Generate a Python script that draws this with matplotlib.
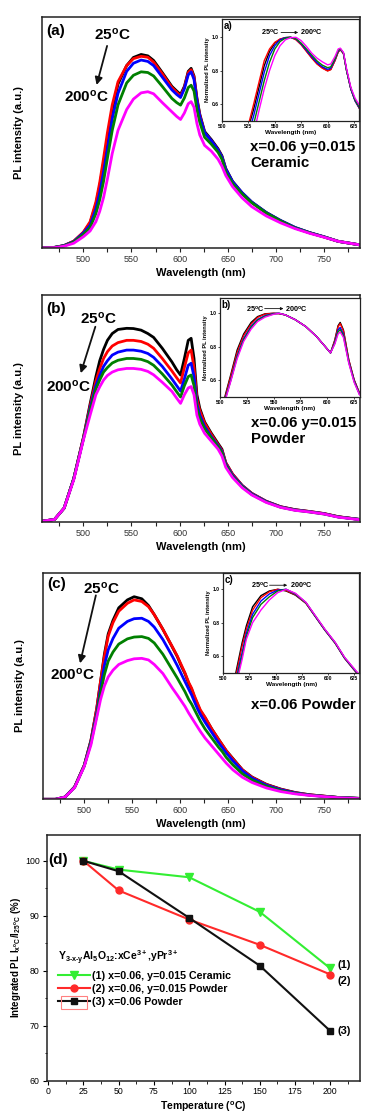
import matplotlib
matplotlib.use('Agg')
import matplotlib.pyplot as plt
from matplotlib.patches import Rectangle
from matplotlib.ticker import FormatStrFormatter

plt.rcParams['font.family'] = ['Liberation Sans', 'DejaVu Sans']
plt.rcParams['font.weight'] = 'bold'
plt.rcParams['mathtext.fontset'] = 'custom'
plt.rcParams['mathtext.rm'] = 'Liberation Sans:bold'
plt.rcParams['mathtext.it'] = 'Liberation Sans:bold:italic'
plt.rcParams['mathtext.bf'] = 'Liberation Sans:bold'
plt.rcParams['mathtext.default'] = 'regular'

# ---------------- data ----------------
temps_labels = ['25$^{\\rm o}$C', '200$^{\\rm o}$C']
series_colors = ['#000000', '#ff0000', '#0000ff', '#008000', '#ff00ff']

wavelength = [457, 470, 480, 490, 500, 507, 513, 517, 521, 525, 530, 536, 545, 552, 560, 567, 573,
              582, 592, 597, 601, 605, 609, 612, 615, 618, 621, 626, 633, 640, 644, 648, 655, 665,
              675, 690, 705, 720, 735, 750, 765, 787]

a_black = [0.003, 0.004, 0.012, 0.03, 0.068, 0.11, 0.19, 0.27, 0.37, 0.47, 0.60, 0.71, 0.79, 0.825, 0.838, 0.832, 0.812, 0.76, 0.70, 0.68, 0.665, 0.70, 0.765, 0.778, 0.745, 0.65, 0.58, 0.505, 0.47, 0.43, 0.40, 0.345, 0.29, 0.24, 0.20, 0.155, 0.12, 0.09, 0.068, 0.05, 0.03, 0.015]
a_red = [0.003, 0.004, 0.012, 0.031, 0.07, 0.115, 0.20, 0.285, 0.39, 0.50, 0.62, 0.72, 0.79, 0.82, 0.83, 0.826, 0.805, 0.755, 0.695, 0.675, 0.658, 0.695, 0.76, 0.772, 0.74, 0.645, 0.575, 0.50, 0.465, 0.425, 0.395, 0.34, 0.285, 0.237, 0.198, 0.153, 0.118, 0.088, 0.067, 0.049, 0.03, 0.015]
a_blue = [0.003, 0.004, 0.012, 0.029, 0.066, 0.10, 0.17, 0.24, 0.33, 0.43, 0.56, 0.67, 0.765, 0.80, 0.814, 0.808, 0.79, 0.74, 0.685, 0.665, 0.652, 0.69, 0.75, 0.763, 0.73, 0.64, 0.57, 0.50, 0.465, 0.425, 0.395, 0.342, 0.288, 0.24, 0.20, 0.155, 0.12, 0.09, 0.068, 0.05, 0.03, 0.015]
a_green = [0.003, 0.004, 0.011, 0.027, 0.06, 0.09, 0.15, 0.21, 0.29, 0.39, 0.51, 0.62, 0.715, 0.748, 0.763, 0.76, 0.745, 0.70, 0.648, 0.63, 0.619, 0.65, 0.695, 0.705, 0.68, 0.60, 0.545, 0.48, 0.45, 0.415, 0.385, 0.33, 0.28, 0.235, 0.197, 0.153, 0.118, 0.088, 0.067, 0.049, 0.03, 0.015]
a_magenta = [0.002, 0.003, 0.009, 0.022, 0.05, 0.075, 0.115, 0.16, 0.22, 0.30, 0.41, 0.51, 0.60, 0.645, 0.672, 0.677, 0.668, 0.63, 0.59, 0.57, 0.557, 0.585, 0.625, 0.634, 0.61, 0.54, 0.49, 0.445, 0.42, 0.385, 0.355, 0.315, 0.267, 0.218, 0.18, 0.14, 0.11, 0.085, 0.065, 0.048, 0.03, 0.015]

b_black = [0.002, 0.01, 0.06, 0.19, 0.37, 0.52, 0.64, 0.71, 0.76, 0.80, 0.83, 0.848, 0.853, 0.852, 0.845, 0.83, 0.813, 0.765, 0.705, 0.67, 0.647, 0.72, 0.80, 0.809, 0.72, 0.56, 0.50, 0.44, 0.39, 0.345, 0.32, 0.26, 0.21, 0.16, 0.125, 0.09, 0.066, 0.053, 0.045, 0.036, 0.022, 0.01]
b_red = [0.002, 0.01, 0.06, 0.19, 0.37, 0.51, 0.62, 0.675, 0.72, 0.75, 0.775, 0.79, 0.80, 0.80, 0.795, 0.783, 0.765, 0.72, 0.665, 0.635, 0.612, 0.68, 0.745, 0.757, 0.68, 0.54, 0.49, 0.435, 0.385, 0.34, 0.315, 0.26, 0.21, 0.16, 0.125, 0.09, 0.066, 0.053, 0.045, 0.036, 0.022, 0.01]
b_blue = [0.002, 0.01, 0.06, 0.19, 0.365, 0.50, 0.60, 0.645, 0.685, 0.71, 0.735, 0.748, 0.757, 0.757, 0.752, 0.742, 0.725, 0.685, 0.63, 0.60, 0.576, 0.63, 0.69, 0.699, 0.64, 0.52, 0.47, 0.42, 0.375, 0.335, 0.31, 0.255, 0.205, 0.158, 0.123, 0.089, 0.065, 0.052, 0.044, 0.035, 0.021, 0.01]
b_green = [0.002, 0.01, 0.06, 0.19, 0.365, 0.49, 0.585, 0.625, 0.66, 0.68, 0.70, 0.712, 0.72, 0.72, 0.716, 0.706, 0.69, 0.652, 0.603, 0.573, 0.55, 0.60, 0.64, 0.647, 0.60, 0.50, 0.455, 0.41, 0.37, 0.33, 0.305, 0.25, 0.20, 0.155, 0.12, 0.087, 0.064, 0.051, 0.043, 0.034, 0.021, 0.01]
b_magenta = [0.002, 0.01, 0.06, 0.185, 0.36, 0.47, 0.56, 0.595, 0.625, 0.645, 0.66, 0.67, 0.676, 0.676, 0.672, 0.663, 0.648, 0.615, 0.575, 0.545, 0.522, 0.56, 0.59, 0.596, 0.56, 0.47, 0.43, 0.39, 0.355, 0.32, 0.29, 0.24, 0.195, 0.15, 0.118, 0.085, 0.063, 0.05, 0.043, 0.034, 0.02, 0.009]

c_black = [0.0, 0.0, 0.01, 0.055, 0.15, 0.26, 0.40, 0.52, 0.64, 0.73, 0.79, 0.845, 0.88, 0.894, 0.885, 0.855, 0.815, 0.75, 0.67, 0.63, 0.59, 0.555, 0.51, 0.485, 0.45, 0.42, 0.39, 0.36, 0.31, 0.265, 0.24, 0.215, 0.18, 0.13, 0.098, 0.066, 0.045, 0.03, 0.02, 0.014, 0.008, 0.004]
c_red = [0.0, 0.0, 0.01, 0.055, 0.15, 0.26, 0.40, 0.52, 0.63, 0.72, 0.78, 0.83, 0.865, 0.88, 0.873, 0.85, 0.815, 0.75, 0.672, 0.632, 0.595, 0.558, 0.515, 0.49, 0.455, 0.425, 0.395, 0.362, 0.31, 0.265, 0.24, 0.215, 0.178, 0.13, 0.097, 0.065, 0.044, 0.029, 0.02, 0.014, 0.008, 0.004]
c_blue = [0.0, 0.0, 0.01, 0.054, 0.148, 0.255, 0.38, 0.49, 0.59, 0.66, 0.71, 0.755, 0.785, 0.797, 0.799, 0.785, 0.76, 0.705, 0.63, 0.59, 0.555, 0.52, 0.485, 0.46, 0.43, 0.40, 0.375, 0.34, 0.295, 0.25, 0.228, 0.205, 0.17, 0.125, 0.093, 0.062, 0.042, 0.028, 0.019, 0.013, 0.008, 0.004]
c_green = [0.0, 0.0, 0.01, 0.053, 0.147, 0.25, 0.37, 0.47, 0.55, 0.61, 0.65, 0.685, 0.708, 0.716, 0.718, 0.71, 0.69, 0.64, 0.57, 0.535, 0.505, 0.475, 0.44, 0.42, 0.395, 0.37, 0.345, 0.31, 0.27, 0.23, 0.21, 0.185, 0.152, 0.112, 0.085, 0.057, 0.038, 0.026, 0.018, 0.013, 0.008, 0.004]
c_magenta = [0.0, 0.0, 0.01, 0.052, 0.145, 0.24, 0.36, 0.44, 0.50, 0.54, 0.57, 0.595, 0.612, 0.62, 0.622, 0.615, 0.595, 0.555, 0.49, 0.46, 0.435, 0.41, 0.38, 0.36, 0.34, 0.32, 0.30, 0.27, 0.235, 0.20, 0.18, 0.16, 0.13, 0.097, 0.074, 0.05, 0.034, 0.024, 0.017, 0.012, 0.007, 0.003]

# insets (normalized)
ia_wl = [500, 520, 526, 530, 535, 540, 545, 550, 555, 560, 565, 570, 575, 580, 585, 590, 595, 600, 603, 607, 610, 612, 615, 618, 622, 626, 630]
ia_black = [0.09, 0.34, 0.48, 0.57, 0.70, 0.83, 0.915, 0.965, 0.988, 0.998, 1.0, 0.988, 0.958, 0.918, 0.878, 0.842, 0.817, 0.80, 0.808, 0.862, 0.912, 0.926, 0.903, 0.80, 0.69, 0.62, 0.575]
ia_red = [0.10, 0.36, 0.50, 0.60, 0.73, 0.86, 0.93, 0.97, 0.99, 0.998, 1.0, 0.985, 0.955, 0.915, 0.875, 0.84, 0.815, 0.798, 0.806, 0.86, 0.912, 0.926, 0.903, 0.80, 0.69, 0.62, 0.575]
ia_blue = [0.08, 0.30, 0.44, 0.53, 0.66, 0.79, 0.89, 0.95, 0.985, 0.998, 1.0, 0.99, 0.96, 0.922, 0.883, 0.848, 0.823, 0.808, 0.815, 0.868, 0.918, 0.93, 0.905, 0.80, 0.69, 0.62, 0.578]
ia_green = [0.06, 0.26, 0.39, 0.48, 0.61, 0.74, 0.85, 0.93, 0.975, 0.995, 1.0, 0.992, 0.965, 0.93, 0.893, 0.858, 0.833, 0.818, 0.823, 0.872, 0.922, 0.932, 0.905, 0.80, 0.695, 0.625, 0.583]
ia_magenta = [0.04, 0.20, 0.32, 0.42, 0.56, 0.69, 0.80, 0.89, 0.95, 0.985, 0.998, 1.0, 0.98, 0.945, 0.905, 0.875, 0.853, 0.835, 0.84, 0.885, 0.93, 0.935, 0.91, 0.81, 0.70, 0.635, 0.594]

ib_wl = [500, 505, 510, 516, 522, 529, 535, 542, 550, 555, 561, 570, 580, 590, 598, 603, 607, 610, 612, 615, 620, 625, 630]
ib_black = [0.38, 0.51, 0.63, 0.78, 0.875, 0.945, 0.98, 0.997, 1.0, 0.998, 0.99, 0.962, 0.92, 0.86, 0.80, 0.762, 0.84, 0.925, 0.945, 0.90, 0.72, 0.60, 0.52]
ib_red = [0.37, 0.50, 0.62, 0.765, 0.865, 0.935, 0.975, 0.995, 1.0, 0.998, 0.99, 0.962, 0.92, 0.86, 0.80, 0.762, 0.835, 0.918, 0.938, 0.895, 0.72, 0.60, 0.52]
ib_blue = [0.36, 0.49, 0.60, 0.745, 0.848, 0.922, 0.963, 0.986, 0.998, 1.0, 0.99, 0.962, 0.92, 0.86, 0.80, 0.762, 0.825, 0.90, 0.915, 0.875, 0.71, 0.595, 0.515]
ib_green = [0.355, 0.485, 0.595, 0.737, 0.84, 0.915, 0.958, 0.982, 0.996, 1.0, 0.99, 0.962, 0.92, 0.86, 0.80, 0.762, 0.82, 0.888, 0.902, 0.865, 0.705, 0.59, 0.512]
ib_magenta = [0.35, 0.48, 0.59, 0.727, 0.83, 0.905, 0.95, 0.977, 0.994, 1.0, 0.99, 0.962, 0.92, 0.86, 0.80, 0.762, 0.815, 0.875, 0.888, 0.855, 0.70, 0.585, 0.51]

ic_wl = [500, 512, 515, 518, 522, 528, 536, 544, 552, 560, 569, 579, 588, 597, 607, 616, 626, 630]
ic_black = [0.2, 0.50, 0.59, 0.68, 0.78, 0.895, 0.962, 0.99, 1.0, 0.99, 0.965, 0.916, 0.836, 0.756, 0.676, 0.586, 0.51, 0.48]
ic_red = [0.18, 0.48, 0.57, 0.66, 0.76, 0.875, 0.95, 0.985, 1.0, 0.993, 0.967, 0.917, 0.837, 0.757, 0.677, 0.587, 0.51, 0.48]
ic_blue = [0.15, 0.45, 0.54, 0.62, 0.735, 0.85, 0.93, 0.972, 0.995, 1.0, 0.97, 0.92, 0.838, 0.758, 0.678, 0.588, 0.512, 0.482]
ic_green = [0.13, 0.43, 0.52, 0.60, 0.715, 0.83, 0.91, 0.955, 0.99, 1.0, 0.973, 0.92, 0.84, 0.76, 0.68, 0.59, 0.515, 0.485]
ic_magenta = [0.10, 0.42, 0.50, 0.58, 0.70, 0.80, 0.876, 0.936, 0.98, 1.0, 0.976, 0.922, 0.842, 0.762, 0.682, 0.592, 0.518, 0.488]

# panel (d)
temperature = [25, 50, 100, 150, 200]
ceramic_xy = [100.0, 98.4, 97.0, 90.7, 80.4]
powder_xy = [100.0, 94.6, 89.3, 84.7, 79.3]
powder_x = [100.0, 98.1, 89.6, 80.9, 69.0]
d_labels = ['(1) x=0.06, y=0.015 Ceramic', '(2) x=0.06, y=0.015 Powder', '(3) x=0.06 Powder']
d_title = 'Y$_{3\\text{-}x\\text{-}y}$Al$_5$O$_{12}$:xCe$^{3+}$,yPr$^{3+}$'

# ---------------- figure ----------------
W, H = 380, 1118
fig = plt.figure(figsize=(W / 100, H / 100), dpi=100)


def rect(l, t, r, b):
    return [l / W, 1 - b / H, (r - l) / W, (b - t) / H]


def main_panel(box, curves, letter, sample, sample_xy, t25_xy, t200_xy, arr):
    ax = fig.add_axes(rect(*box))
    for y, c in zip(curves, series_colors):
        ax.plot(wavelength, y, color=c, lw=2.0, solid_joinstyle='round')
    ax.set_xlim(457, 787)
    ax.set_ylim(0, 1)
    ax.set_yticks([])
    ax.set_xticks([500, 550, 600, 650, 700, 750])
    ax.set_xticks([475, 525, 575, 625, 675, 725, 775], minor=True)
    ax.tick_params(axis='x', which='both', direction='out', length=3, width=0.8,
                   labelsize=6.5, pad=2, colors='#222222')
    for tl in ax.get_xticklabels():
        tl.set_fontweight('normal')
        tl.set_color('#333333')
    for s in ax.spines.values():
        s.set_linewidth(1.1)
        s.set_color('#222222')
    ax.set_xlabel('Wavelength (nm)', fontsize=8, fontweight='bold', labelpad=3)
    ax.set_ylabel('PL intensity (a.u.)', fontsize=8, fontweight='bold')
    ax.yaxis.set_label_coords(-0.058, 0.5)
    ax.text(0.012, 0.94 if letter != '(c)' else 0.95, letter, transform=ax.transAxes, fontsize=11,
            fontweight='bold', ha='left', va='center')
    ax.text(*t25_xy, temps_labels[0], transform=ax.transAxes, fontsize=11,
            fontweight='bold', ha='center', va='center')
    ax.text(*t200_xy, temps_labels[1], transform=ax.transAxes, fontsize=11,
            fontweight='bold', ha='center', va='center')
    ax.annotate('', xy=arr[1], xytext=arr[0], xycoords='axes fraction',
                arrowprops=dict(arrowstyle='-|>', color='#111111', lw=1.3,
                                mutation_scale=11, shrinkA=0, shrinkB=0))
    ax.text(*sample_xy, sample, transform=ax.transAxes, fontsize=10.8,
            fontweight='bold', ha='left', va='top', linespacing=1.2)
    return ax


def inset(box, wl, curves, letter, t25_x, arr_x, t200_x, ty, ytop):
    ax = fig.add_axes(rect(*box))
    for y, c in zip(curves, series_colors):
        ax.plot(wl, y, color=c, lw=1.0)
    ax.set_xlim(500, 630)
    ax.set_ylim(0.5, ytop)
    ax.set_xticks([500, 525, 550, 575, 600, 625])
    ax.set_yticks([0.6, 0.8, 1.0])
    ax.yaxis.set_major_formatter(FormatStrFormatter('%.1f'))
    ax.tick_params(which='both', direction='out', length=1.5, width=0.5,
                   labelsize=3.6, pad=1)
    for s in ax.spines.values():
        s.set_linewidth(0.9)
        s.set_color('#222222')
    ax.set_xlabel('Wavelength (nm)', fontsize=4.6, fontweight='bold', labelpad=0.5)
    ax.set_ylabel('Normalized PL intensity', fontsize=4.1, fontweight='bold', labelpad=1)
    ax.text(0.01, 0.93, letter, transform=ax.transAxes, fontsize=7,
            fontweight='bold', ha='left', va='center')
    ax.text(t25_x, ty, temps_labels[0], transform=ax.transAxes, fontsize=5.2,
            fontweight='bold', ha='center', va='center')
    ax.text(t200_x, ty, temps_labels[1], transform=ax.transAxes, fontsize=5.2,
            fontweight='bold', ha='center', va='center')
    ax.annotate('', xy=(arr_x[1], ty), xytext=(arr_x[0], ty), xycoords='axes fraction',
                arrowprops=dict(arrowstyle='-|>', color='#111111', lw=0.6,
                                mutation_scale=4, shrinkA=0, shrinkB=0))
    return ax


# panel (a)
main_panel((42, 17, 359.5, 248.3), [a_black, a_red, a_blue, a_green, a_magenta], '(a)',
           'x=0.06 y=0.015\nCeramic', (0.655, 0.47), (0.22, 0.922), (0.14, 0.655),
           ((0.205, 0.875), (0.172, 0.706)))
inset((222, 19.3, 359.3, 120.7), ia_wl, [ia_black, ia_red, ia_blue, ia_green, ia_magenta],
      'a)', 0.35, (0.43, 0.555), 0.65, 0.87, 1.108)

# panel (b)
main_panel((42, 295, 359.5, 521.7), [b_black, b_red, b_blue, b_green, b_magenta], '(b)',
           'x=0.06 y=0.015\nPowder', (0.658, 0.468), (0.177, 0.897), (0.085, 0.594),
           ((0.168, 0.86), (0.122, 0.655)))
inset((220, 298.3, 359.5, 396.5), ib_wl, [ib_black, ib_red, ib_blue, ib_green, ib_magenta],
      'b)', 0.25, (0.32, 0.455), 0.55, 0.895, 1.09)

# panel (c)
main_panel((43, 572.7, 359.5, 799.3), [c_black, c_red, c_blue, c_green, c_magenta], '(c)',
           'x=0.06 Powder', (0.657, 0.445), (0.185, 0.931), (0.093, 0.549),
           ((0.167, 0.9), (0.117, 0.6)))
inset((223.3, 573.3, 359.3, 672.7), ic_wl, [ic_black, ic_red, ic_blue, ic_green, ic_magenta],
      'c)', 0.27, (0.34, 0.47), 0.57, 0.88, 1.096)

# panel (d)
axd = fig.add_axes(rect(46.7, 835, 360, 1080.5))
l1, = axd.plot(temperature, ceramic_xy, color='#33ee33', marker='v', ms=5.5, lw=1.5,
               label=d_labels[0])
l2, = axd.plot(temperature, powder_xy, color='#ff2a2a', marker='o', ms=5, lw=1.5,
               label=d_labels[1])
l3, = axd.plot(temperature, powder_x, color='#111111', marker='s', ms=4.5, lw=1.5,
               label=d_labels[2])
axd.set_xlim(-1, 221)
axd.set_ylim(60, 104.7)
axd.set_xticks([0, 25, 50, 75, 100, 125, 150, 175, 200])
axd.set_xticks([12.5, 37.5, 62.5, 87.5, 112.5, 137.5, 162.5, 187.5, 212.5], minor=True)
axd.set_yticks([60, 70, 80, 90, 100])
axd.set_yticks([65, 75, 85, 95], minor=True)
axd.tick_params(which='major', direction='out', length=3, width=0.8, labelsize=6.3, pad=2)
axd.tick_params(which='minor', direction='out', length=1.8, width=0.6)
for tl in axd.get_xticklabels() + axd.get_yticklabels():
    tl.set_fontweight('normal')
for s in axd.spines.values():
    s.set_linewidth(1.1)
    s.set_color('#222222')
axd.set_xlabel('Temperature ($^{\\rm o}$C)', fontsize=7.5, fontweight='bold', labelpad=2)
axd.set_ylabel('Integrated PL I$_{x^{o}C}$/I$_{25^{o}C}$ (%)', fontsize=7, fontweight='bold')
axd.yaxis.set_label_coords(-0.075, 0.5)
axd.text(0.005, 0.9, '(d)', transform=axd.transAxes, fontsize=11, fontweight='bold',
         ha='left', va='center')
leg = axd.legend(handles=[l1, l2, l3], title=d_title, loc='upper left',
                 bbox_to_anchor=(0.035, 0.535), frameon=False, fontsize=7.7,
                 title_fontsize=7.5, handlelength=3.0, handletextpad=0.25,
                 labelspacing=0.3, alignment='left', borderaxespad=0, borderpad=0)
axd.add_patch(Rectangle((0.046, 0.291), 0.084, 0.053, transform=axd.transAxes,
                        fill=False, ec='#ff8080', lw=0.8, zorder=6))
for lab, yv, dy in zip(['(1)', '(2)', '(3)'], [ceramic_xy[-1], powder_xy[-1], powder_x[-1]],
                       [0.6, -1.1, 0.0]):
    axd.text(205, yv + dy, lab, fontsize=8, fontweight='bold', ha='left', va='center')

fig.savefig('out.png', dpi=100)
